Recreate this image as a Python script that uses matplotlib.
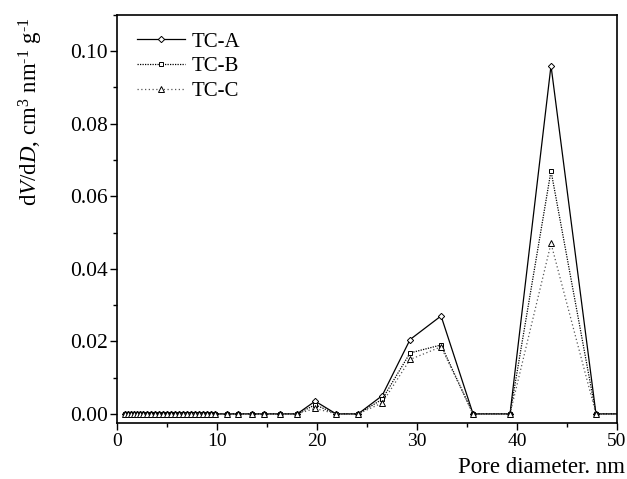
import numpy as np
import matplotlib
matplotlib.use('Agg')
import matplotlib.pyplot as plt
from matplotlib.ticker import MultipleLocator, FormatStrFormatter

plt.rcParams['font.family'] = ['Liberation Serif', 'DejaVu Serif']
plt.rcParams['mathtext.fontset'] = 'custom'
plt.rcParams['mathtext.rm'] = 'Liberation Serif'
plt.rcParams['mathtext.it'] = 'Liberation Serif:italic'

# pore diameter, nm
diam = [0.8, 1.1, 1.4, 1.7, 2.0, 2.3, 2.6, 3.0, 3.4, 3.8, 4.2, 4.6, 5.0, 5.4, 5.8,
        6.2, 6.6, 7.0, 7.4, 7.8, 8.2, 8.6, 9.0, 9.4, 9.8,
        11.0, 12.1, 13.5, 14.7, 16.3, 18.0, 19.8, 21.9, 24.1, 26.5, 29.3, 32.4,
        35.6, 39.3, 43.4, 47.9, 52.0]
n_low = 31
tc_a = [0.0] * n_low + [0.0035, 0.0, 0.0, 0.005, 0.0205, 0.027, 0.0, 0.0, 0.096, 0.0, 0.0]
tc_b = [0.0] * n_low + [0.0025, 0.0, 0.0, 0.004, 0.0168, 0.019, 0.0, 0.0, 0.067, 0.0, 0.0]
tc_c = [0.0] * n_low + [0.0015, 0.0, 0.0, 0.003, 0.015, 0.0185, 0.0, 0.0, 0.047, 0.0, 0.0]

fig = plt.figure(figsize=(6.27, 4.79), dpi=100)
ax = fig.add_axes([0.187, 0.117, 0.797, 0.852])

ax.plot(diam, tc_a, color='black', lw=0.9, ls='-', marker='D', ms=3.2,
        mfc='white', mec='black', mew=0.7, label='TC-A')
ax.plot(diam, tc_b, color='black', lw=0.9, ls=(0, (1, 1)), marker='s', ms=3.5,
        mfc='white', mec='black', mew=0.7, label='TC-B')
ax.plot(diam, tc_c, color='#555555', lw=0.9, ls=(0, (1, 2)), marker='^', ms=4,
        mfc='white', mec='black', mew=0.7, label='TC-C')

ax.set_xlim(0, 50)
ax.set_ylim(-0.0025, 0.11)
ax.xaxis.set_major_locator(MultipleLocator(10))
ax.xaxis.set_minor_locator(MultipleLocator(5))
ax.yaxis.set_major_locator(MultipleLocator(0.02))
ax.yaxis.set_minor_locator(MultipleLocator(0.01))
ax.yaxis.set_major_formatter(FormatStrFormatter('%.2f'))
ax.tick_params(which='major', direction='out', length=5, width=1,
               top=False, right=False)
ax.tick_params(which='minor', direction='out', length=3, width=1,
               top=False, right=False)
ax.tick_params(axis='x', labelsize=14, pad=2)
ax.tick_params(axis='y', labelsize=15.5, pad=2)
for s in ax.spines.values():
    s.set_linewidth(1.2)

ax.set_xlabel('Pore diameter. nm', fontsize=16.5, ha='right', va='center')
ax.xaxis.set_label_coords(1.017, -0.110)
ax.set_ylabel(r'd$V$/d$D$, cm$^3$ nm$^{\text{-1}}$ g$^{\text{-1}}$', fontsize=16.5,
              va='center', ha='center')
ax.yaxis.set_label_coords(-0.172, 0.762)

ax.legend(loc='upper left', frameon=False, fontsize=15, handlelength=2.3,
          handletextpad=0.3, labelspacing=0.25, borderaxespad=0, borderpad=0,
          bbox_to_anchor=(0.04, 0.958))

fig.savefig('out.png', dpi=100)
